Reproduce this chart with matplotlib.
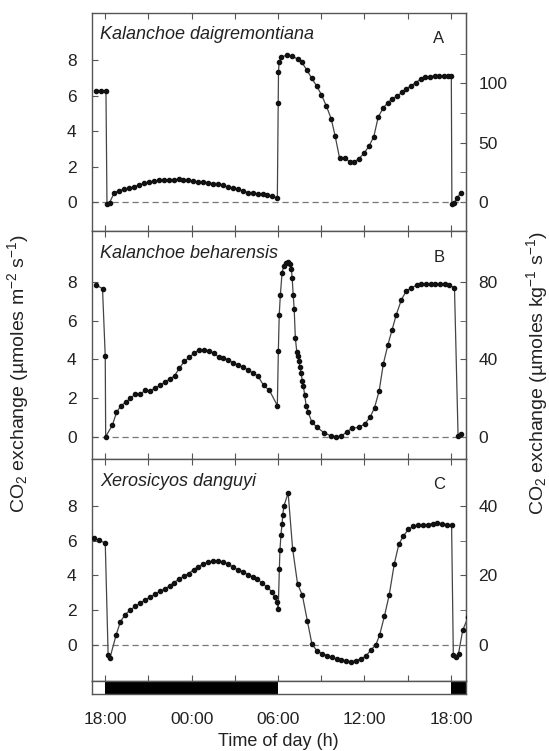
import numpy as np
import matplotlib
matplotlib.use('Agg')
import matplotlib.pyplot as plt

plt.rcParams['font.family'] = ['Liberation Sans', 'DejaVu Sans']
plt.rcParams['mathtext.fontset'] = 'custom'
plt.rcParams['mathtext.rm'] = 'Liberation Sans'
plt.rcParams['mathtext.it'] = 'Liberation Sans:italic'

# time in hours from 18:00 (=18) to 18:00 next day (=42)
tA = [17.38, 17.70, 18.05, 18.12, 18.30,
      18.63, 18.97, 19.32, 19.66, 20.00, 20.35, 20.69, 21.03, 21.37, 21.72,
      22.06, 22.40, 22.75, 23.09, 23.43, 23.78, 24.12, 24.46, 24.80, 25.15,
      25.49, 25.83, 26.18, 26.52, 26.86, 27.20, 27.55, 27.89, 28.23, 28.58,
      28.92, 29.26, 29.60, 29.95,
      30.01, 30.03, 30.07, 30.22, 30.63, 31.00, 31.36, 31.65, 31.99, 32.33,
      32.70, 33.01, 33.35, 33.69, 33.96, 34.27, 34.64, 35.00, 35.29, 35.61,
      35.97, 36.34, 36.65, 36.95, 37.29, 37.63, 37.92, 38.28, 38.60, 38.89,
      39.25, 39.57, 39.91, 40.22, 40.54, 40.88, 41.20, 41.51, 41.78, 42.03,
      42.07, 42.24, 42.41, 42.70]
vA = [6.25, 6.25, 6.25, -0.12, -0.04,
      0.53, 0.64, 0.72, 0.77, 0.87, 0.96, 1.06, 1.11, 1.17, 1.23,
      1.23, 1.25, 1.26, 1.28, 1.26, 1.23, 1.17, 1.13, 1.11, 1.09,
      1.04, 1.00, 0.94, 0.83, 0.79, 0.72, 0.64, 0.53, 0.49, 0.45,
      0.43, 0.38, 0.32, 0.23,
      5.58, 7.32, 7.89, 8.19, 8.30, 8.23, 8.08, 7.89, 7.47, 7.00,
      6.53, 6.06, 5.43, 4.70, 3.74, 2.49, 2.49, 2.26, 2.26, 2.45,
      2.75, 3.19, 3.70, 4.79, 5.30, 5.62, 5.81, 6.00, 6.19, 6.38,
      6.58, 6.75, 6.94, 7.04, 7.09, 7.13, 7.13, 7.13, 7.13, 7.13,
      -0.12, -0.04, 0.21, 0.53]

tB = [17.38, 17.81, 18.00, 18.03,
      18.50, 18.78, 19.09, 19.41, 19.75, 20.09, 20.43, 20.77, 21.11, 21.45,
      21.79, 22.13, 22.47, 22.81, 23.15, 23.49, 23.83, 24.17, 24.51, 24.85,
      25.19, 25.53, 25.87, 26.21, 26.55, 26.89, 27.23, 27.57, 27.91, 28.25,
      28.59, 29.00, 29.40, 29.95,
      30.02, 30.08, 30.16, 30.28, 30.40, 30.55, 30.72, 30.85, 30.92, 30.98,
      31.05, 31.12, 31.20, 31.30, 31.38, 31.45, 31.52, 31.60, 31.68, 31.76,
      31.85, 31.95, 32.10, 32.33, 32.70, 33.18, 33.67, 34.03, 34.40, 34.76,
      35.12, 35.61, 36.02, 36.39, 36.70, 37.02, 37.31, 37.63, 37.92, 38.21,
      38.57, 38.89, 39.25, 39.62, 39.93, 40.27, 40.59, 40.90, 41.25, 41.56,
      41.90, 42.25, 42.50, 42.72]
vB = [7.84, 7.67, 4.16, 0.00,
      0.60, 1.25, 1.60, 1.77, 1.99, 2.20, 2.20, 2.39, 2.37, 2.51,
      2.65, 2.82, 2.98, 3.15, 3.55, 3.90, 4.10, 4.33, 4.50, 4.50,
      4.45, 4.33, 4.12, 4.07, 3.98, 3.81, 3.72, 3.60, 3.46, 3.29,
      3.15, 2.65, 2.39, 1.61,
      4.45, 6.30, 7.35, 8.50, 8.85, 9.00, 9.05, 8.95, 8.70, 8.20,
      7.35, 6.60, 5.10, 4.40, 4.20, 3.90, 3.60, 3.30, 2.90, 2.60,
      2.15, 1.60, 1.25, 0.78, 0.48, 0.21, 0.03, 0.00, 0.03, 0.24,
      0.43, 0.48, 0.66, 1.00, 1.50, 2.37, 3.77, 4.76, 5.54, 6.32,
      7.10, 7.53, 7.71, 7.84, 7.90, 7.90, 7.90, 7.90, 7.90, 7.90,
      7.85, 7.70, 0.02, 0.15]

tC = [17.19, 17.56, 18.00, 18.20, 18.33,
      18.75, 19.05, 19.39, 19.73, 20.08, 20.42, 20.76, 21.10, 21.44, 21.78,
      22.13, 22.47, 22.76, 23.10, 23.44, 23.79, 24.13, 24.47, 24.81, 25.15,
      25.50, 25.84, 26.18, 26.52, 26.86, 27.20, 27.55, 27.89, 28.23, 28.57,
      28.91, 29.23, 29.60, 29.79, 29.91, 30.01,
      30.09, 30.13, 30.20, 30.28, 30.33, 30.40, 30.70, 31.01, 31.35, 31.69,
      32.04, 32.35, 32.72, 33.06, 33.40, 33.75, 34.07, 34.40, 34.75, 35.06,
      35.41, 35.75, 36.09, 36.43, 36.80, 37.06, 37.38, 37.72, 38.07, 38.39,
      38.71, 39.05, 39.36, 39.73, 40.05, 40.39, 40.73, 41.07, 41.39, 41.73,
      42.05, 42.17, 42.34, 42.53, 42.82, 43.20]
vC = [6.12, 6.01, 5.86, -0.60, -0.76,
      0.54, 1.32, 1.73, 1.99, 2.20, 2.38, 2.57, 2.73, 2.90, 3.07,
      3.20, 3.39, 3.57, 3.76, 3.94, 4.09, 4.32, 4.50, 4.65, 4.76,
      4.80, 4.80, 4.76, 4.65, 4.47, 4.32, 4.20, 4.04, 3.91, 3.76,
      3.53, 3.33, 3.01, 2.73, 2.46, 2.03,
      4.37, 5.43, 6.33, 6.98, 7.48, 7.98, 8.74, 5.53, 3.52, 2.83,
      1.34, 0.04, -0.39, -0.52, -0.63, -0.74, -0.84, -0.89, -0.93, -1.00,
      -0.93, -0.82, -0.67, -0.33, 0.00, 0.58, 1.62, 2.87, 4.65, 5.80,
      6.27, 6.64, 6.81, 6.87, 6.88, 6.92, 6.98, 7.00, 6.96, 6.92,
      6.87, -0.61, -0.71, -0.52, 0.82, 1.60]

names = ['Kalanchoe daigremontiana', 'Kalanchoe beharensis', 'Xerosicyos danguyi']
letters = ['A', 'B', 'C']
right_factor = [14.9, 10.0, 5.0]
right_major = [[0, 50, 100], [0, 40, 80], [0, 20, 40]]
right_minor = [[25, 75, 125], [20, 60], [10, 30]]
ylims = [(-1.64, 10.68), (-1.16, 10.65), (-2.1, 10.7)]

dark_start = [18, 42]
dark_end = [30, 43.05]
hour_ticks = [18, 24, 30, 36, 42]
hour_labels = ['18:00', '00:00', '06:00', '12:00', '18:00']

W, H = 549, 751
def box(x0, y0, x1, y1):
    return [x0 / W, 1 - y1 / H, (x1 - x0) / W, (y1 - y0) / H]

fig = plt.figure(figsize=(5.49, 7.51), dpi=100)
frames = [box(92, 13, 466, 231), box(92, 231, 466, 459), box(92, 459, 466, 681)]
spine_c = '#555555'
xmin, xmax = 17.08, 43.05
fs = 12.5

series = [(tA, vA), (tB, vB), (tC, vC)]
for i in range(3):
    ax = fig.add_axes(frames[i])
    t, v = series[i]
    ax.axhline(0, color='#777777', lw=0.9, ls=(0, (5, 3)), zorder=1)
    ax.plot(t, v, color='#444444', lw=0.9, marker='o', ms=3.0,
            mfc='#111111', mec='#111111', zorder=3)
    ax.set_xlim(xmin, xmax)
    ax.set_ylim(*ylims[i])
    ax.set_xticks(np.arange(18, 43, 3))
    ax.set_xticklabels([])
    ax.set_yticks([0, 2, 4, 6, 8])
    ax.tick_params(axis='x', direction='in', top=True, bottom=True, length=4,
                   color=spine_c)
    ax.tick_params(axis='y', direction='in', length=4, color=spine_c,
                   labelsize=fs, pad=11, labelcolor='#222222')
    for s in ax.spines.values():
        s.set_color(spine_c)
        s.set_linewidth(1.0)
    f = right_factor[i]
    sec = ax.secondary_yaxis('right', functions=(lambda x, f=f: x * f,
                                                 lambda x, f=f: x / f))
    sec.set_yticks(right_major[i])
    sec.set_yticks(right_minor[i], minor=True)
    sec.tick_params(which='both', direction='in', length=4, color=spine_c,
                    labelsize=fs, pad=9, labelcolor='#222222')
    sec.spines['right'].set_color(spine_c)
    ax.text(0.022, 0.9, names[i], transform=ax.transAxes, fontsize=13,
            style='italic', color='#222222', va='center', ha='left')
    ax.text(0.927, 0.885, letters[i], transform=ax.transAxes, fontsize=12,
            color='#222222', va='center', ha='center')

# light / dark bar
axb = fig.add_axes(box(92, 681, 466, 694))
for a, b in zip(dark_start, dark_end):
    axb.axvspan(a, b, color='black', lw=0)
axb.set_xlim(xmin, xmax)
axb.set_ylim(0, 1)
axb.set_yticks([])
axb.set_xticks(hour_ticks)
axb.set_xticklabels(hour_labels)
axb.tick_params(axis='x', length=0, pad=13, labelsize=fs, labelcolor='#222222')
for s in axb.spines.values():
    s.set_color(spine_c)
    s.set_linewidth(1.0)

fig.text(278 / W, 1 - 741 / H, 'Time of day (h)', ha='center', va='center',
         fontsize=13, color='#222222')
fig.text(18 / W, 1 - 373 / H, 'CO$_2$ exchange (µmoles m$^{-2}$ s$^{-1}$)',
         rotation=90, ha='center', va='center', fontsize=14, color='#222222')
fig.text(537 / W, 1 - 373 / H, 'CO$_2$ exchange (µmoles kg$^{-1}$ s$^{-1}$)',
         rotation=90, ha='center', va='center', fontsize=14, color='#222222')

plt.savefig('out.png', dpi=100)
